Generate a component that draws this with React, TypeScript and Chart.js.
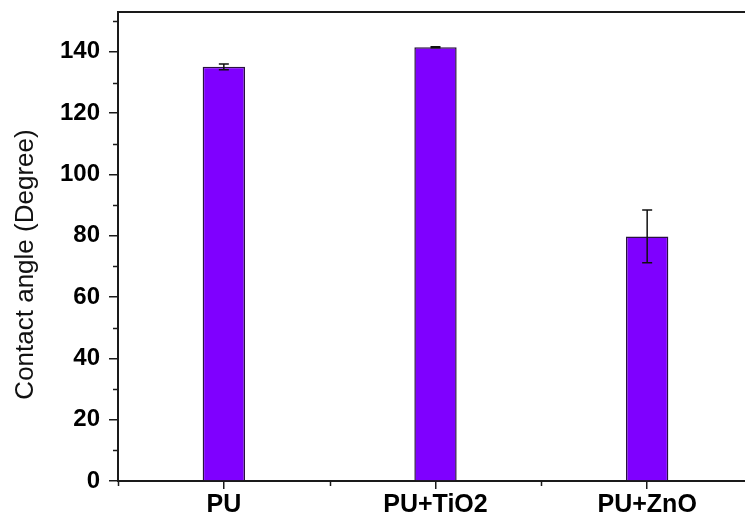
import React, { useEffect, useRef } from "react";
import { Chart, registerables } from "chart.js";

Chart.register(...registerables);

const categories = ["PU", "PU+TiO2", "PU+ZnO"];
const contactAngle = [135.1, 141.5, 79.8];
const contactAngleError = [0.9, 0.2, 8.6];
const yMajorTicks = [0, 20, 40, 60, 80, 100, 120, 140];
const yMinorTicks = [10, 30, 50, 70, 90, 110, 130, 150];
const yAxisTitle = "Contact angle (Degree)";

const FONT = "'Liberation Sans', Arial, sans-serif";
const INK = "#1a1a1a";

const extrasPlugin = {
  id: "extras",
  afterDatasetsDraw(chart: any) {
    const { ctx, scales } = chart;
    const y = scales.y;
    ctx.save();
    const meta = chart.getDatasetMeta(0);
    ctx.strokeStyle = "#111";
    ctx.lineWidth = 1.5;
    meta.data.forEach((bar: any, i: number) => {
      const v = contactAngle[i];
      const e = contactAngleError[i];
      const cx = bar.x;
      const yTop = y.getPixelForValue(v + e);
      const yBot = y.getPixelForValue(v - e);
      const cap = 5;
      ctx.beginPath();
      ctx.moveTo(cx, yTop);
      ctx.lineTo(cx, yBot);
      ctx.moveTo(cx - cap, yTop);
      ctx.lineTo(cx + cap, yTop);
      ctx.moveTo(cx - cap, yBot);
      ctx.lineTo(cx + cap, yBot);
      ctx.stroke();
    });
    ctx.restore();
  },
  afterDraw(chart: any) {
    const { ctx, chartArea, scales } = chart;
    const y = scales.y;
    const x = scales.x;
    ctx.save();
    ctx.strokeStyle = INK;
    ctx.lineWidth = 1.5;
    yMinorTicks.forEach((t) => {
      const py = Math.round(y.getPixelForValue(t)) + 0.5;
      ctx.beginPath();
      ctx.moveTo(chartArea.left, py);
      ctx.lineTo(chartArea.left - 5, py);
      ctx.stroke();
    });
    const step = x.getPixelForValue(1) - x.getPixelForValue(0);
    for (let i = 0; i < categories.length; i++) {
      const px = Math.round(x.getPixelForValue(i) - step / 2) + 0.5;
      ctx.beginPath();
      ctx.moveTo(px, chartArea.bottom);
      ctx.lineTo(px, chartArea.bottom + 5);
      ctx.stroke();
    }
    ctx.lineWidth = 2;
    ctx.beginPath();
    ctx.moveTo(chartArea.left - 1, chartArea.top);
    ctx.lineTo(chartArea.right, chartArea.top);
    ctx.stroke();
    ctx.fillStyle = "#111";
    ctx.font = `26px ${FONT}`;
    ctx.textAlign = "center";
    ctx.textBaseline = "alphabetic";
    ctx.translate(33, 264.5);
    ctx.rotate(-Math.PI / 2);
    ctx.fillText(yAxisTitle, 0, 0);
    ctx.restore();
  },
};

export default function App() {
  const canvasRef = useRef<HTMLCanvasElement>(null);

  useEffect(() => {
    const canvas = canvasRef.current!;
    const chart = new Chart(canvas, {
      type: "bar",
      data: {
        labels: categories,
        datasets: [
          {
            data: contactAngle,
            backgroundColor: "#7f00ff",
            borderColor: "#2a1040",
            borderWidth: 1.5,
            barPercentage: 0.2,
            categoryPercentage: 1,
          },
        ],
      },
      options: {
        responsive: false,
        animation: false,
        devicePixelRatio: 1,
        layout: { padding: { top: 12, right: 0, bottom: 0, left: 0 } },
        plugins: {
          legend: { display: false },
          tooltip: { enabled: false },
        },
        scales: {
          x: {
            type: "category",
            offset: true,
            grid: {
              display: true,
              offset: false,
              drawOnChartArea: false,
              drawTicks: true,
              tickLength: 8,
              color: INK,
              lineWidth: 1.5,
            },
            border: { display: true, color: INK, width: 2 },
            ticks: {
              color: "#000",
              font: { family: FONT, size: 25, weight: "bold" },
              padding: 1,
              maxRotation: 0,
              autoSkip: false,
            },
            afterFit: (scale: any) => {
              scale.height = 36;
              scale.paddingLeft = 0;
              scale.paddingRight = 0;
            },
          },
          y: {
            min: 0,
            max: 153,
            grid: {
              display: true,
              drawOnChartArea: false,
              drawTicks: true,
              tickLength: 9,
              color: INK,
              lineWidth: 1.5,
            },
            border: { display: true, color: INK, width: 2 },
            ticks: {
              color: "#000",
              font: { family: FONT, size: 24, weight: "bold" },
              padding: 9,
            },
            afterBuildTicks: (scale: any) => {
              scale.ticks = yMajorTicks.map((v) => ({ value: v }));
            },
            afterFit: (scale: any) => {
              scale.width = 118;
              scale.paddingTop = 0;
              scale.paddingBottom = 0;
            },
          },
        },
      },
      plugins: [extrasPlugin],
    });
    return () => chart.destroy();
  }, []);

  return (
    <div
      style={{
        position: "fixed",
        left: 0,
        top: 0,
        width: 745,
        height: 517,
        overflow: "hidden",
        background: "#fff",
      }}
    >
      <canvas ref={canvasRef} width={753} height={517} style={{ display: "block" }} />
    </div>
  );
}
